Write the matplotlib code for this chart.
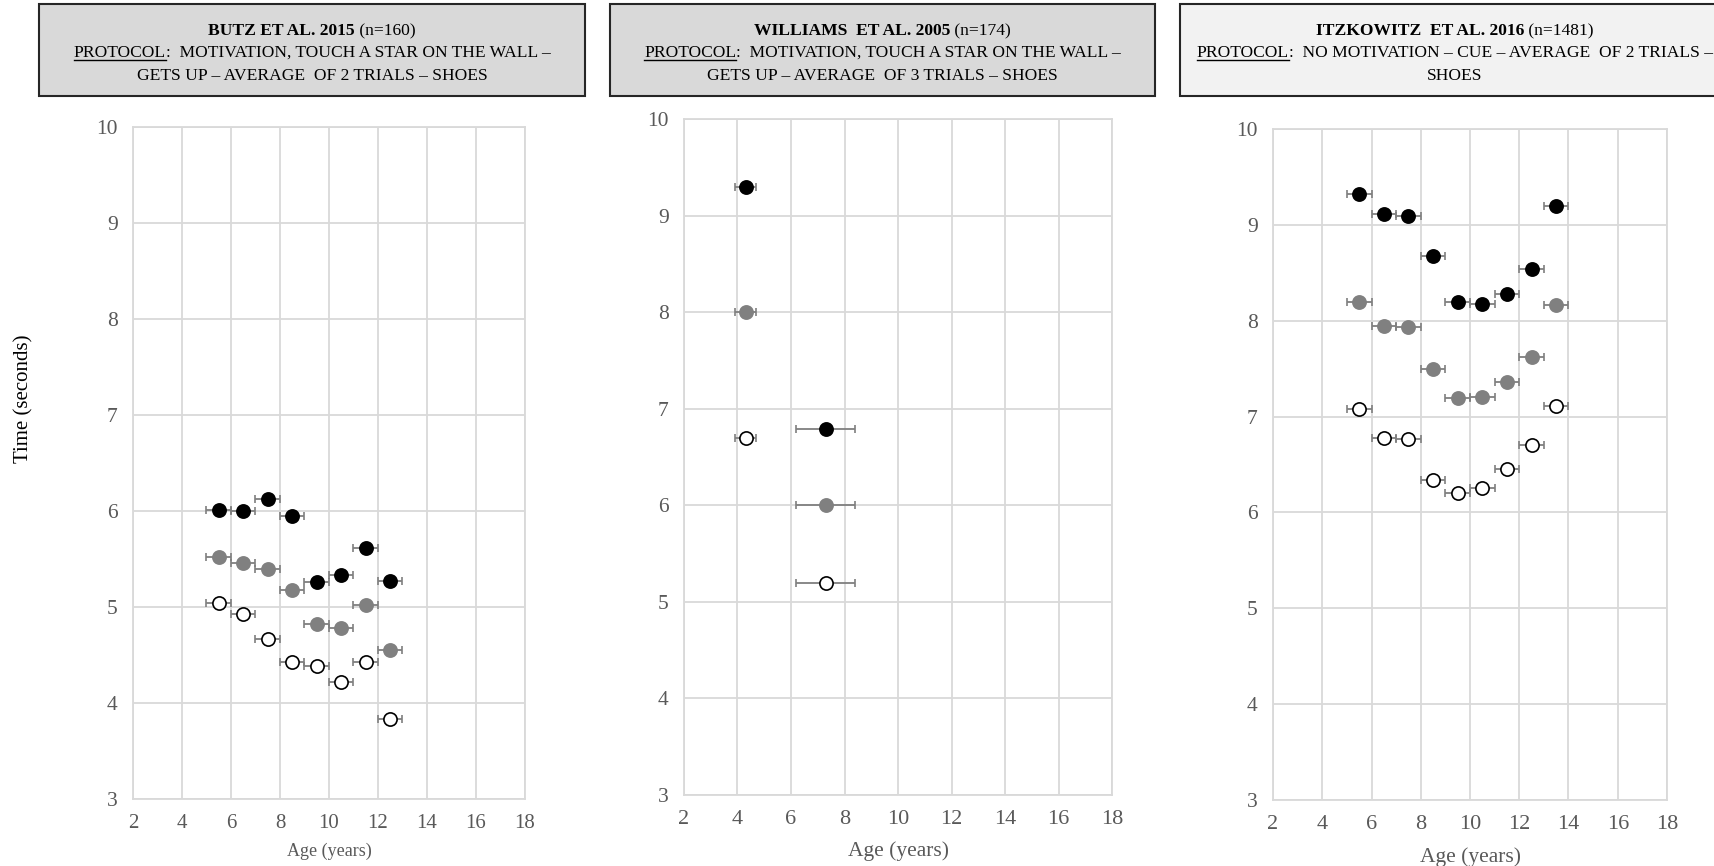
import matplotlib
matplotlib.use('Agg')
import matplotlib.pyplot as plt
from matplotlib.patches import Rectangle
from matplotlib.lines import Line2D

plt.rcParams['font.family'] = ['Liberation Serif', 'DejaVu Serif']

# --- Butz et al. 2015 ---
butz_age = [5.5, 6.5, 7.5, 8.5, 9.5, 10.5, 11.5, 12.5]
butz_age_err = [0.5, 0.5, 0.5, 0.5, 0.5, 0.5, 0.5, 0.5]
butz_black = [6.01, 6.00, 6.12, 5.95, 5.26, 5.33, 5.61, 5.27]
butz_grey = [5.52, 5.46, 5.40, 5.18, 4.82, 4.78, 5.02, 4.55]
butz_white = [5.04, 4.93, 4.67, 4.43, 4.39, 4.22, 4.43, 3.83]

# --- Williams et al. 2005 ---
williams_age = [4.3, 7.3]
williams_age_err = [0.4, 1.1]
williams_black = [9.30, 6.79]
williams_grey = [8.00, 6.00]
williams_white = [6.70, 5.20]

# --- Itzkowitz et al. 2016 ---
itz_age = [5.5, 6.5, 7.5, 8.5, 9.5, 10.5, 11.5, 12.5, 13.5]
itz_age_err = [0.5, 0.5, 0.5, 0.5, 0.5, 0.5, 0.5, 0.5, 0.5]
itz_black = [9.32, 9.11, 9.09, 8.68, 8.20, 8.17, 8.28, 8.54, 9.20]
itz_grey = [8.20, 7.95, 7.93, 7.50, 7.19, 7.20, 7.36, 7.62, 8.16]
itz_white = [7.08, 6.78, 6.77, 6.34, 6.20, 6.25, 6.45, 6.70, 7.11]

x_ticks = [2, 4, 6, 8, 10, 12, 14, 16, 18]
y_ticks = [3, 4, 5, 6, 7, 8, 9, 10]

headers = [
    [[("BUTZ ET AL. 2015", "bold", False), (" (n=160)", "normal", False)],
     [("PROTOCOL", "normal", True), (":  MOTIVATION, TOUCH A STAR ON THE WALL \u2013", "normal", False)],
     [("GETS UP \u2013 AVERAGE  OF 2 TRIALS \u2013 SHOES", "normal", False)]],
    [[("WILLIAMS  ET AL. 2005", "bold", False), (" (n=174)", "normal", False)],
     [("PROTOCOL", "normal", True), (":  MOTIVATION, TOUCH A STAR ON THE WALL \u2013", "normal", False)],
     [("GETS UP \u2013 AVERAGE  OF 3 TRIALS \u2013 SHOES", "normal", False)]],
    [[("ITZKOWITZ  ET AL. 2016", "bold", False), (" (n=1481)", "normal", False)],
     [("PROTOCOL", "normal", True), (":  NO MOTIVATION \u2013 CUE \u2013 AVERAGE  OF 2 TRIALS \u2013", "normal", False)],
     [("SHOES", "normal", False)]],
]

W, H = 1715, 866
GRID = '#d9d9d9'
TICK = '#595959'

fig = plt.figure(figsize=(W / 100, H / 100), dpi=100)


def px(x, y):
    return x / W, 1 - y / H


def make_axes(left, top, right, bottom, xtick_size, label_size, label_pad):
    x0, y1 = px(left, top)
    x1, y0 = px(right, bottom)
    ax = fig.add_axes([x0, y0, x1 - x0, y1 - y0])
    ax.set_xlim(2, 18)
    ax.set_ylim(3, 10)
    ax.set_xticks(x_ticks)
    ax.set_yticks(y_ticks)
    ax.grid(True, color=GRID, lw=1.3)
    ax.set_axisbelow(True)
    for s in ax.spines.values():
        s.set_color(GRID)
        s.set_linewidth(1.3)
    ax.tick_params(length=0, colors=TICK, labelsize=15.5, pad=11)
    ax.tick_params(axis='x', labelsize=xtick_size)
    ax.set_xlabel('Age (years)', fontsize=label_size, color=TICK, labelpad=label_pad)
    return ax


def draw_series(ax, age, err, black, grey, white):
    for vals, face, edge in [(black, 'black', 'black'),
                             (grey, '#808080', '#808080'),
                             (white, 'white', 'black')]:
        ax.errorbar(age, vals, xerr=err, fmt='none', ecolor='#7f7f7f',
                    elinewidth=1.3, capsize=3, capthick=1.2, zorder=2)
        ax.plot(age, vals, 'o', ms=9.5, mfc=face, mec=edge, mew=1.2,
                ls='none', zorder=3)


ax1 = make_axes(133, 127, 525, 799, 15, 13, 7)
draw_series(ax1, butz_age, butz_age_err, butz_black, butz_grey, butz_white)

ax2 = make_axes(684, 119, 1112, 795, 16, 15.5, 8.5)
draw_series(ax2, williams_age, williams_age_err, williams_black, williams_grey, williams_white)

ax3 = make_axes(1273, 129, 1667, 800, 16, 15.5, 9)
draw_series(ax3, itz_age, itz_age_err, itz_black, itz_grey, itz_white)

fig.text(*px(24, 399), 'Time (seconds)', fontsize=15, rotation=90, ha='center', va='center')

# header boxes
boxes = [(39, 4, 585, 96, '#d9d9d9'),
         (610, 4, 1155, 96, '#d9d9d9'),
         (1180, 4, 1730, 96, '#f2f2f2')]
for (l, t, r, b, c) in boxes:
    x0, y1 = px(l, t)
    x1, y0 = px(r, b)
    fig.patches.append(Rectangle((x0, y0), x1 - x0, y1 - y0, transform=fig.transFigure,
                                 facecolor=c, edgecolor='#262626', lw=1.5, zorder=0))

renderer = fig.canvas.get_renderer()
line_y = [29, 51, 74]
HFS = 12.6
for (l, t, r, b, c), lines in zip(boxes, headers):
    cx = (l + r) / 2
    for yy, pieces in zip(line_y, lines):
        texts = []
        widths = []
        for s, weight, ul in pieces:
            tx = fig.text(0, 0, s, fontsize=HFS, fontweight=weight, va='baseline', ha='left')
            bb = tx.get_window_extent(renderer)
            texts.append(tx)
            widths.append(bb.width)
        total = sum(widths)
        xcur = cx - total / 2
        base = yy + 6
        for tx, w, (s, weight, ul) in zip(texts, widths, pieces):
            tx.set_position(px(xcur, base))
            if ul:
                ux0, uy = px(xcur, base + 2.5)
                ux1, _ = px(xcur + w, base + 2.5)
                fig.lines.append(Line2D([ux0, ux1], [uy, uy], transform=fig.transFigure,
                                        color='black', lw=1.0))
            xcur += w

fig.savefig('out.png', dpi=100)
